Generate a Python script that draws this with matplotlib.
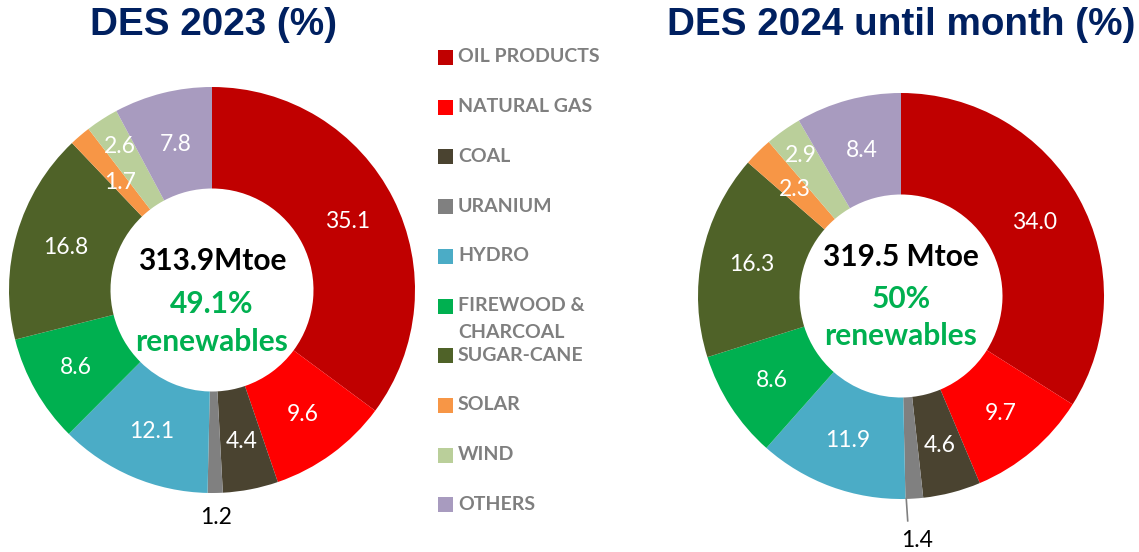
import matplotlib
matplotlib.use("Agg")
import matplotlib.pyplot as plt
import numpy as np
from matplotlib.patches import Rectangle

# ---------------- data ----------------
categories = ["OIL PRODUCTS", "NATURAL GAS", "COAL", "URANIUM", "HYDRO",
              "FIREWOOD &\nCHARCOAL", "SUGAR-CANE", "SOLAR", "WIND", "OTHERS"]
values_2023 = [35.1, 9.6, 4.4, 1.2, 12.1, 8.6, 16.8, 1.7, 2.6, 7.8]
values_2024 = [34.0, 9.7, 4.6, 1.4, 11.9, 8.6, 16.3, 2.3, 2.9, 8.4]
title_2023 = "DES 2023 (%)"
title_2024 = "DES 2024 until month (%)"
total_2023 = "313.9Mtoe"
total_2024 = "319.5 Mtoe"
renew_2023 = "49.1%"
renew_2024 = "50%"

colors = ["#C00000", "#FF0000", "#4A4330", "#808080", "#4BACC6",
          "#00B050", "#4F6228", "#F79646", "#BACF9A", "#A89BBF"]

W, H = 1139, 552
fig = plt.figure(figsize=(W / 100, H / 100), dpi=100)
fig.patch.set_facecolor("white")

LABEL_FONT = ["Lato", "DejaVu Sans"]
TITLE_FONT = ["Liberation Sans", "DejaVu Sans"]
NAVY = "#002060"
GREEN = "#00B050"
R_PX = 203


def make_ax(cx, cy):
    return fig.add_axes([(cx - R_PX) / W, (H - cy - R_PX) / H, 2 * R_PX / W, 2 * R_PX / H])


def donut(ax, values, label_r, outside_r, leader, total, renew, baselines):
    wedges, _ = ax.pie(values, colors=colors, startangle=90, counterclock=False,
                       radius=1.0, wedgeprops=dict(width=0.5, linewidth=0))
    for i, (w, v) in enumerate(zip(wedges, values)):
        ang = np.deg2rad((w.theta1 + w.theta2) / 2)
        if i == 3:  # uranium outside
            r = outside_r
            ax.text(r * np.cos(ang), r * np.sin(ang), f"{v:.1f}", ha="center", va="center",
                    fontsize=16.5, color="black", family=LABEL_FONT)
            if leader:
                ax.plot([1.0 * np.cos(ang) - 0.04, 1.11 * np.cos(ang) - 0.04],
                        [1.0 * np.sin(ang), 1.11 * np.sin(ang)],
                        color="#808080", lw=1.2, clip_on=False)
        else:
            r = label_r[i]
            ax.text(r * np.cos(ang), r * np.sin(ang), f"{v:.1f}", ha="center", va="center",
                    fontsize=16.5, color="white", family=LABEL_FONT)
    ax.text(0, baselines[0], total, ha="center", va="baseline", fontsize=21.5,
            fontweight="bold", color="black", family=LABEL_FONT)
    ax.text(0, baselines[1], renew, ha="center", va="baseline", fontsize=21.5,
            fontweight="bold", color=GREEN, family=LABEL_FONT)
    ax.text(0, baselines[2], "renewables", ha="center", va="baseline", fontsize=21.5,
            fontweight="bold", color=GREEN, family=LABEL_FONT)
    ax.set_xlim(-1, 1)
    ax.set_ylim(-1, 1)
    ax.set_aspect("equal")
    ax.axis("off")


ax1 = make_ax(212, 290)
donut(ax1, values_2023,
      label_r=[0.75, 0.76, 0.76, 0, 0.76, 0.77, 0.75, 0.70, 0.84, 0.74],
      outside_r=1.12, leader=False, total=total_2023, renew=renew_2023,
      baselines=[0.099, -0.113, -0.30])

ax2 = make_ax(901, 296)
donut(ax2, values_2024,
      label_r=[0.75, 0.76, 0.76, 0, 0.76, 0.76, 0.75, 0.74, 0.85, 0.74],
      outside_r=1.205, leader=True, total=total_2024, renew=renew_2024,
      baselines=[0.148, -0.059, -0.241])

# titles
fig.text(214 / W, 1 - 25 / H, title_2023, ha="center", va="center", fontsize=27.8,
         fontweight="bold", color=NAVY, family=TITLE_FONT)
fig.text(901 / W, 1 - 25 / H, title_2024, ha="center", va="center", fontsize=27.8,
         fontweight="bold", color=NAVY, family=TITLE_FONT)

# legend (manual)
y0, dy = 57, 49.7
for i, (lab, c) in enumerate(zip(categories, colors)):
    yc = y0 + i * dy
    fig.add_artist(Rectangle((438 / W, 1 - (yc + 8) / H), 15 / W, 15 / H,
                             transform=fig.transFigure, facecolor=c, edgecolor="none"))
    for k, line in enumerate(lab.split("\n")):
        fig.text(458 / W, 1 - (yc + k * 27) / H, line, ha="left", va="center",
                 fontsize=14, fontweight="bold", color="#7F7F7F", family=LABEL_FONT)

fig.savefig("out.png", dpi=100, facecolor="white")
